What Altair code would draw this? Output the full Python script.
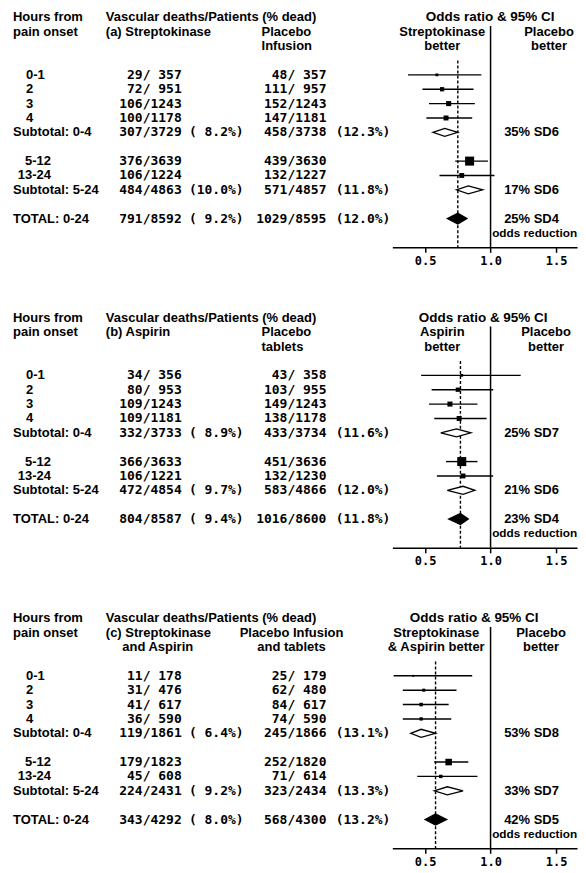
import altair as alt
import pandas as pd

# ---------------- data ----------------
ROW_LABELS = ["0-1", "2", "3", "4", "Subtotal: 0-4", "5-12", "13-24", "Subtotal: 5-24", "TOTAL: 0-24"]
ROW_KIND = ["early", "early", "early", "early", "sub", "late", "late", "sub", "total"]

# (a) Streptokinase vs placebo infusion
A_T_DEATHS = [29, 72, 106, 100, 307, 376, 106, 484, 791]
A_T_PATIENTS = [357, 951, 1243, 1178, 3729, 3639, 1224, 4863, 8592]
A_T_PCT = [8.2, 10.0, 9.2]
A_P_DEATHS = [48, 111, 152, 147, 458, 439, 132, 571, 1029]
A_P_PATIENTS = [357, 957, 1243, 1181, 3738, 3630, 1227, 4857, 8595]
A_P_PCT = [12.3, 11.8, 12.0]
A_OR = [0.59, 0.63, 0.68, 0.66, 0.65, 0.84, 0.78, 0.83, 0.75]
A_LO = [0.37, 0.48, 0.53, 0.51, 0.56, 0.73, 0.61, 0.74, 0.67]
A_HI = [0.93, 0.87, 0.88, 0.86, 0.75, 0.98, 1.03, 0.94, 0.82]
A_RED = ["35% SD6", "17% SD6", "25% SD4"]

# (b) Aspirin vs placebo tablets
B_T_DEATHS = [34, 80, 109, 109, 332, 366, 106, 472, 804]
B_T_PATIENTS = [356, 953, 1243, 1181, 3733, 3633, 1221, 4854, 8587]
B_T_PCT = [8.9, 9.7, 9.4]
B_P_DEATHS = [43, 103, 149, 138, 433, 451, 132, 583, 1016]
B_P_PATIENTS = [358, 955, 1243, 1178, 3734, 3636, 1230, 4866, 8600]
B_P_PCT = [11.6, 12.0, 11.8]
B_OR = [0.78, 0.75, 0.69, 0.76, 0.74, 0.78, 0.79, 0.79, 0.77]
B_LO = [0.47, 0.55, 0.53, 0.57, 0.62, 0.66, 0.59, 0.67, 0.68]
B_HI = [1.23, 1.02, 0.90, 0.97, 0.85, 0.90, 1.02, 0.88, 0.83]
B_RED = ["25% SD7", "21% SD6", "23% SD4"]

# (c) Streptokinase and aspirin vs placebo infusion and tablets
C_T_DEATHS = [11, 31, 41, 36, 119, 179, 45, 224, 343]
C_T_PATIENTS = [178, 476, 617, 590, 1861, 1823, 608, 2431, 4292]
C_T_PCT = [6.4, 9.2, 8.0]
C_P_DEATHS = [25, 62, 84, 74, 245, 252, 71, 323, 568]
C_P_PATIENTS = [179, 480, 617, 590, 1866, 1820, 614, 2434, 4300]
C_P_PCT = [13.1, 13.3, 13.2]
C_OR = [0.41, 0.49, 0.47, 0.47, 0.47, 0.68, 0.62, 0.67, 0.58]
C_LO = [0.26, 0.33, 0.33, 0.33, 0.39, 0.57, 0.44, 0.57, 0.50]
C_HI = [0.86, 0.74, 0.68, 0.70, 0.58, 0.83, 0.90, 0.79, 0.665]
C_RED = ["53% SD8", "33% SD7", "42% SD5"]

AXIS_TICKS = [0.5, 1.0, 1.5]

# ---------------- layout / style ----------------
WORD = "Liberation Sans"
NUM = "DejaVu Sans Mono"
ROW_POS = [4, 5, 6, 7, 8, 10, 11, 12, 14]
H = 239
TW = 385
FW = 185
YS = alt.Scale(domain=[-0.6, 16], reverse=True, nice=False, zero=False)
XS = alt.Scale(domain=[0.25, 1.66], nice=False, zero=False)
AX = alt.Axis(values=AXIS_TICKS, format=".1f", title=None, grid=False,
              domainColor="black", domainWidth=1.5, tickColor="black",
              tickWidth=1.5, tickSize=5, labelFont=NUM, labelFontSize=12,
              labelFontWeight="bold", labelColor="black", labelPadding=3)


def ych(field="pos"):
    return alt.Y(f"{field}:Q", scale=YS, axis=None)


def txt(df, x, align="left", font=WORD, size=13, **kw):
    return alt.Chart(df).mark_text(
        align=align, baseline="middle", font=font, fontSize=size,
        fontWeight="bold", color="black", **kw
    ).encode(x=alt.value(x), y=ych(), text="text:N")


def line(t, pos):
    return pd.DataFrame({"pos": [pos], "text": [t]})


def build_panel(P):
    rows = pd.DataFrame({
        "label": ROW_LABELS, "kind": ROW_KIND, "pos": ROW_POS,
        "td": P["td"], "tn": P["tn"], "pd": P["pd"], "pn": P["pn"],
        "or": P["or"], "lo": P["lo"], "hi": P["hi"],
    })
    rows["tcount"] = [f"{d}/{n:>4}" for d, n in zip(rows.td, rows.tn)]
    rows["pcount"] = [f"{d}/{n:>4}" for d, n in zip(rows["pd"], rows.pn)]
    rows["deaths"] = rows.td + rows["pd"]
    sums = rows[rows.kind.isin(["sub", "total"])].copy()
    sums["tpct"] = [f"({v:4.1f}%)" for v in P["tpct"]]
    sums["ppct"] = [f"({v:4.1f}%)" for v in P["ppct"]]
    sums["red"] = P["red"]

    # ---------- table side ----------
    L = [
        txt(line("Hours from", 0), 5),
        txt(line("pain onset", 1), 5),
        txt(line("Vascular deaths/Patients (% dead)", 0), 98),
    ]
    for i, (t, x, al) in enumerate(P["treat_hdr"]):
        L.append(txt(line(t, i + 1), x, al))
    for i, (t, x, al) in enumerate(P["plac_hdr"]):
        L.append(txt(line(t, i + 1), x, al))
    early = rows[rows.kind == "early"].assign(text=lambda d: d.label)
    late = rows[rows.kind == "late"].assign(text=lambda d: d.label)
    sl = sums.assign(text=lambda d: d.label)
    L.append(txt(early, 18))
    L.append(txt(late, 43, "right"))
    L.append(txt(sl, 5))
    L.append(txt(rows.assign(text=rows.tcount), 174, "right", NUM, 13))
    L.append(txt(rows.assign(text=rows.pcount), 319, "right", NUM, 13))
    L.append(txt(sums.assign(text=sums.tpct), 236, "right", NUM, 13))
    L.append(txt(sums.assign(text=sums.ppct), 383, "right", NUM, 13))
    table = alt.layer(*L).properties(width=TW, height=H)

    # ---------- forest side ----------
    indiv = rows[rows.kind.isin(["early", "late"])]
    total_or = float(rows[rows.kind == "total"]["or"].iloc[0])

    F = []
    F.append(alt.Chart(pd.DataFrame({"x": [1.0], "y": [0.6], "y2": [16]})).mark_rule(
        color="black", strokeWidth=1.5).encode(
        x=alt.X("x:Q", scale=XS, axis=AX), y=ych("y"), y2="y2:Q"))
    F.append(alt.Chart(pd.DataFrame({"x": [total_or], "y": [3.0], "y2": [16]})).mark_rule(
        color="black", strokeWidth=1.4, strokeDash=[3, 2]).encode(
        x=alt.X("x:Q", scale=XS, axis=AX), y=ych("y"), y2="y2:Q"))
    F.append(alt.Chart(indiv).mark_rule(color="black", strokeWidth=1.4).encode(
        x=alt.X("lo:Q", scale=XS, axis=AX), x2="hi:Q", y=ych()))
    F.append(alt.Chart(indiv).mark_square(color="black", filled=True, opacity=1).encode(
        x=alt.X("or:Q", scale=XS, axis=AX), y=ych(),
        size=alt.Size("deaths:Q", scale=alt.Scale(domain=[0, 1000], range=[0, 100]), legend=None)))

    recs = []
    for _, r in sums.iterrows():
        h = 0.38 if r.kind == "total" else 0.28
        recs += [
            {"pos": r.pos, "kind": r.kind, "x": r.lo, "y": r.pos, "y2": r.pos},
            {"pos": r.pos, "kind": r.kind, "x": r["or"], "y": r.pos - h, "y2": r.pos + h},
            {"pos": r.pos, "kind": r.kind, "x": r.hi, "y": r.pos, "y2": r.pos},
        ]
    dia = pd.DataFrame(recs)
    for kind, fill in [("sub", "white"), ("total", "black")]:
        F.append(alt.Chart(dia[dia.kind == kind]).mark_area(
            orient="vertical", fill=fill, stroke="black", strokeWidth=1.3, opacity=1).encode(
            x=alt.X("x:Q", scale=XS, axis=AX), y=ych("y"), y2="y2:Q", detail="pos:N"))

    F.append(txt(line("Odds ratio & 95% CI", 0), P["or_x"], "center", size=13.5))
    for i, t in enumerate(P["left_hdr"]):
        F.append(txt(line(t, i + 1), P["left_x"], "center"))
    for i, t in enumerate(["Placebo", "better"]):
        F.append(txt(line(t, i + 1), P["right_x"], "center"))
    F.append(txt(sums.assign(text=sums.red), 112))
    F.append(txt(line("odds reduction", 15), 100, size=11.8))
    forest = alt.layer(*F).properties(width=FW, height=H)

    return alt.hconcat(table, forest, spacing=0, bounds="flush")


PANELS = [
    dict(td=A_T_DEATHS, tn=A_T_PATIENTS, pd=A_P_DEATHS, pn=A_P_PATIENTS,
         tpct=A_T_PCT, ppct=A_P_PCT, red=A_RED,
         **{"or": A_OR}, lo=A_LO, hi=A_HI,
         treat_hdr=[("(a) Streptokinase", 98, "left")],
         plac_hdr=[("Placebo", 254, "left"), ("Infusion", 254, "left")],
         left_hdr=["Streptokinase", "better"], or_x=98, left_x=50, right_x=157),
    dict(td=B_T_DEATHS, tn=B_T_PATIENTS, pd=B_P_DEATHS, pn=B_P_PATIENTS,
         tpct=B_T_PCT, ppct=B_P_PCT, red=B_RED,
         **{"or": B_OR}, lo=B_LO, hi=B_HI,
         treat_hdr=[("(b) Aspirin", 98, "left")],
         plac_hdr=[("Placebo", 254, "left"), ("tablets", 254, "left")],
         left_hdr=["Aspirin", "better"], or_x=91, left_x=50, right_x=154),
    dict(td=C_T_DEATHS, tn=C_T_PATIENTS, pd=C_P_DEATHS, pn=C_P_PATIENTS,
         tpct=C_T_PCT, ppct=C_P_PCT, red=C_RED,
         **{"or": C_OR}, lo=C_LO, hi=C_HI,
         treat_hdr=[("(c) Streptokinase", 98, "left"), ("and Aspirin", 150, "center")],
         plac_hdr=[("Placebo Infusion", 284, "center"), ("and tablets", 284, "center")],
         left_hdr=["Streptokinase", "& Aspirin better"], or_x=82, left_x=44, right_x=149),
]

chart = alt.vconcat(*[build_panel(p) for p in PANELS], spacing=43).properties(
    padding=0
).configure_view(stroke=None)

chart.save("out.html", embed_options={"renderer": "svg", "actions": False})
